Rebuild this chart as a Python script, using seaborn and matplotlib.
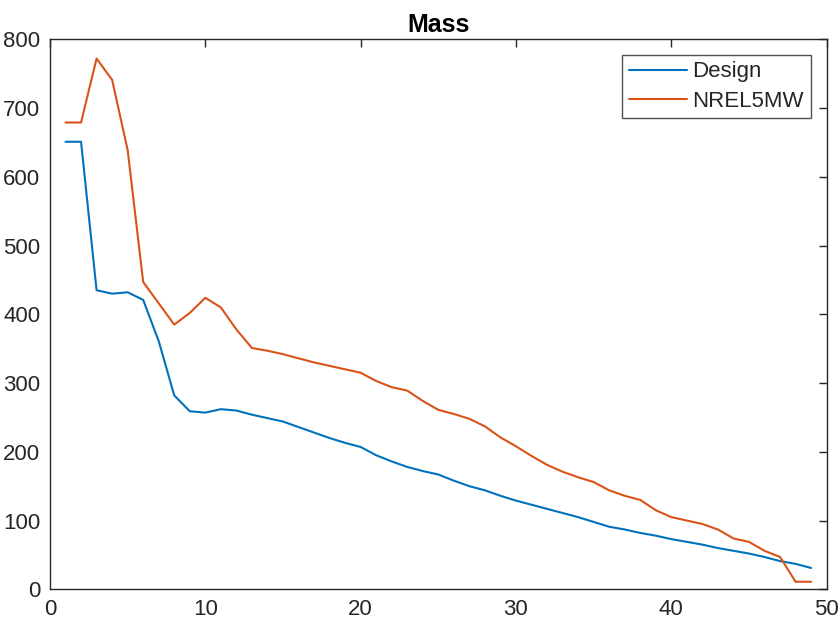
import numpy as np
import pandas as pd
import seaborn as sns
import matplotlib
matplotlib.use('Agg')
import matplotlib.pyplot as plt

# values (section index 1..49)
section = list(range(1, 50))
design = [651, 651, 435, 430, 432, 421, 361, 282, 259, 257,
          262, 260, 254, 249, 244, 236, 228, 220, 213, 207,
          195, 186, 178, 172, 167, 158, 150, 144, 136, 129,
          123, 117, 111, 105, 98, 91, 87, 82, 78, 73,
          69, 65, 60, 56, 52, 47, 41, 37, 31]
nrel5mw = [679, 679, 772, 741, 639, 447, 416, 385, 402, 424,
           410, 378, 351, 347, 342, 336, 330, 325, 320, 315,
           303, 294, 289, 274, 261, 255, 248, 237, 221, 208,
           194, 181, 171, 163, 156, 144, 136, 130, 115, 105,
           100, 95, 87, 74, 69, 56, 47, 11, 11]

df = pd.DataFrame({
    'x': section * 2,
    'mass': design + nrel5mw,
    'series': ['Design'] * len(design) + ['NREL5MW'] * len(nrel5mw),
})

sns.set_style('white')
plt.rcParams['font.family'] = ['Liberation Sans', 'DejaVu Sans']

fig = plt.figure(figsize=(8.4, 6.3), dpi=100)
ax = fig.add_axes([0.0595, 0.0646, 0.9246, 0.873])

sns.lineplot(data=df, x='x', y='mass', hue='series',
             palette=['#0072BD', '#D95319'], linewidth=1.5, ax=ax)

ax.set_xlim(0, 50)
ax.set_ylim(0, 800)
ax.set_xticks(range(0, 51, 10))
ax.set_yticks(range(0, 801, 100))
ax.set_xlabel('')
ax.set_ylabel('')
ax.set_title('Mass', fontsize=18, fontweight='bold', color='black', pad=5)

for s in ax.spines.values():
    s.set_color('#262626')
    s.set_linewidth(1.0)
ax.tick_params(direction='in', length=6, width=1.0, colors='#262626',
               labelsize=16, top=True, right=True, labelcolor='#262626')
ax.tick_params(axis='x', pad=7)
ax.tick_params(axis='y', pad=7)

leg = ax.legend(loc='upper right', bbox_to_anchor=(0.9794, 0.972),
                fontsize=16, frameon=True, fancybox=False,
                handlelength=2.6, borderpad=0.3, labelspacing=0.38,
                handletextpad=0.25, borderaxespad=0)
leg.get_frame().set_edgecolor('#262626')
leg.get_frame().set_linewidth(1.0)
leg.set_title(None)

fig.savefig('out.png', dpi=100)
